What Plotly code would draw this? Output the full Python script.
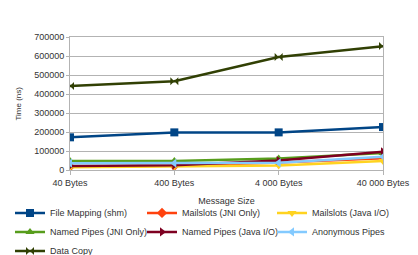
import plotly.graph_objects as go

categories = ["40 Bytes", "400 Bytes", "4 000 Bytes", "40 000 Bytes"]

file_mapping = [172000, 198000, 198000, 226000]
mailslots_jni = [18000, 22000, 40000, 62000]
mailslots_java = [15000, 20000, 24000, 47000]
named_pipes_jni = [47000, 47000, 61000, 90000]
named_pipes_java = [21000, 25000, 50000, 96000]
anonymous_pipes = [36000, 36000, 38000, 70000]
data_copy = [442000, 467000, 595000, 652000]

series = [
    ("File Mapping (shm)", file_mapping, "#004586", "square"),
    ("Mailslots (JNI Only)", mailslots_jni, "#ff420e", "diamond"),
    ("Mailslots (Java I/O)", mailslots_java, "#ffd320", "triangle-down"),
    ("Named Pipes (JNI Only)", named_pipes_jni, "#579d1c", "triangle-up"),
    ("Named Pipes (Java I/O)", named_pipes_java, "#7e0021", "triangle-right"),
    ("Anonymous Pipes", anonymous_pipes, "#83caff", "triangle-left"),
    ("Data Copy", data_copy, "#314004", "bowtie"),
]

legend_ids = ["legend", "legend2", "legend3"]

fig = go.Figure()
for i, (name, vals, color, sym) in enumerate(series):
    fig.add_trace(go.Scatter(
        x=categories, y=vals, name=name, mode="lines+markers",
        line=dict(color=color, width=2.5),
        marker=dict(symbol=sym, size=8, color=color),
        legend=legend_ids[i % 3],
    ))

font_family = "Liberation Sans, Arial, sans-serif"
leg_common = dict(
    orientation="v", xref="container", yref="container",
    xanchor="left", yanchor="top", y=0.222,
    font=dict(size=9, color="#333333"),
    itemwidth=30, tracegroupgap=0, bgcolor="rgba(0,0,0,0)",
)
fig.update_layout(
    width=418, height=255,
    margin=dict(l=70, r=35, t=37, b=85, autoexpand=False),
    paper_bgcolor="white", plot_bgcolor="white",
    font=dict(family=font_family, size=9, color="#333333"),
    showlegend=True,
    legend=dict(x=10 / 418, **leg_common),
    legend2=dict(x=142 / 418, **leg_common),
    legend3=dict(x=272 / 418, **leg_common),
    xaxis=dict(
        type="category", range=[0, 3],
        showgrid=False, showline=True, linecolor="#b3b3b3", linewidth=1, mirror=True,
        ticks="outside", ticklen=4, tickcolor="#b3b3b3", tickangle=0,
        title=dict(text="Message Size", font=dict(size=9), standoff=10),
        tickfont=dict(size=9),
    ),
    yaxis=dict(
        range=[0, 700000], dtick=100000, tickformat="d",
        showgrid=True, gridcolor="#b3b3b3", gridwidth=1,
        showline=True, linecolor="#b3b3b3", linewidth=1, mirror=True,
        ticks="outside", ticklen=3, tickcolor="#b3b3b3",
        zeroline=False,
        tickfont=dict(size=9),
    ),
    annotations=[dict(
        text="Time (ns)", textangle=-90, showarrow=False,
        xref="paper", yref="paper", x=-52 / 313, y=0.5,
        xanchor="center", yanchor="middle",
        font=dict(size=8, color="#333333"),
    )],
)

fig.write_html("out.html")
